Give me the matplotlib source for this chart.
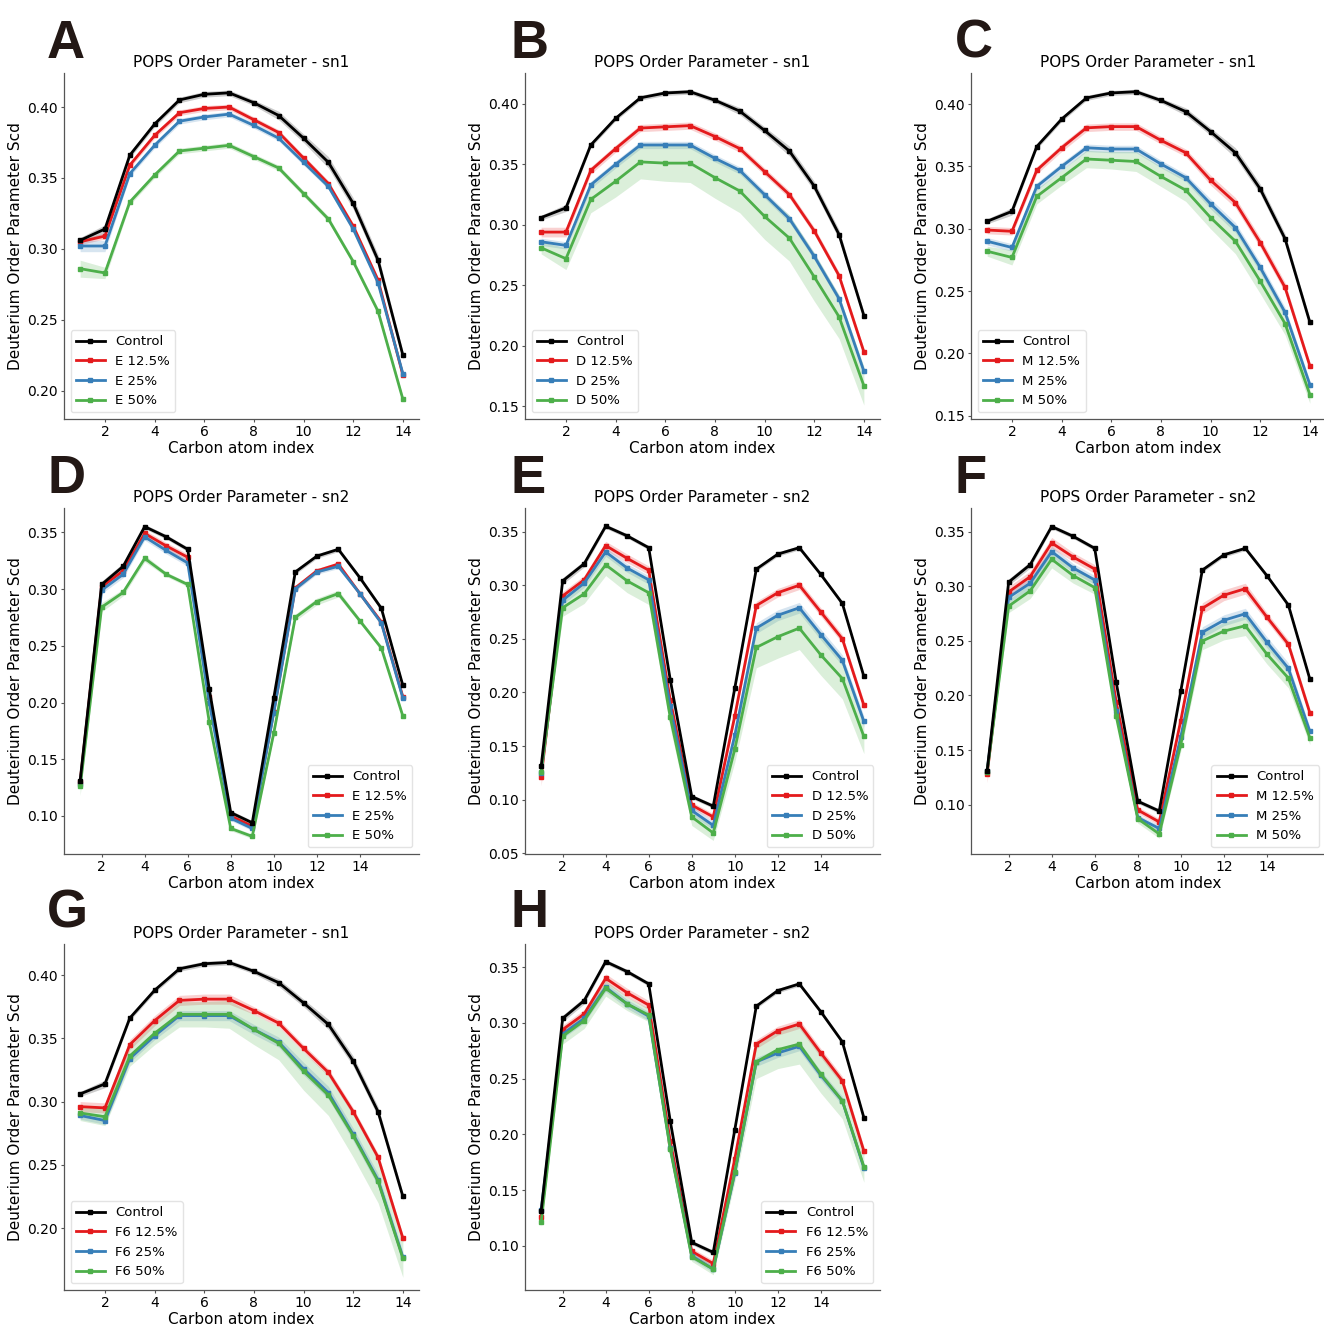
import matplotlib.pyplot as plt
import numpy as np

# carbon positions
carbon_sn1 = list(range(1, 15))
carbon_sn2 = list(range(1, 17))

# ---- sn1 chains (14 carbons) ----
ctrl_sn1 = [0.306, 0.314, 0.366, 0.388, 0.405, 0.409, 0.410, 0.403, 0.394, 0.378, 0.361, 0.332, 0.292, 0.225]
ctrl_sn1_err = [0.002, 0.003, 0.002, 0.002, 0.002, 0.002, 0.002, 0.002, 0.003, 0.003, 0.004, 0.004, 0.004, 0.003]

e12_sn1 = [0.305, 0.309, 0.359, 0.380, 0.396, 0.399, 0.400, 0.391, 0.382, 0.364, 0.346, 0.316, 0.278, 0.211]
e25_sn1 = [0.302, 0.302, 0.353, 0.373, 0.390, 0.393, 0.395, 0.387, 0.378, 0.361, 0.344, 0.314, 0.276, 0.212]
e50_sn1 = [0.286, 0.283, 0.333, 0.352, 0.369, 0.371, 0.373, 0.365, 0.357, 0.339, 0.321, 0.291, 0.256, 0.194]
e12_sn1_err = [0.002, 0.002, 0.002, 0.002, 0.002, 0.002, 0.002, 0.002, 0.002, 0.002, 0.002, 0.002, 0.002, 0.002]
e25_sn1_err = [0.004, 0.004, 0.002, 0.002, 0.002, 0.002, 0.002, 0.002, 0.002, 0.002, 0.002, 0.002, 0.002, 0.002]
e50_sn1_err = [0.006, 0.004, 0.002, 0.002, 0.002, 0.002, 0.002, 0.002, 0.002, 0.002, 0.002, 0.002, 0.002, 0.002]

d12_sn1 = [0.294, 0.294, 0.345, 0.363, 0.380, 0.381, 0.382, 0.373, 0.363, 0.344, 0.325, 0.295, 0.258, 0.195]
d25_sn1 = [0.286, 0.283, 0.333, 0.350, 0.366, 0.366, 0.366, 0.355, 0.345, 0.325, 0.305, 0.274, 0.239, 0.179]
d50_sn1 = [0.281, 0.272, 0.321, 0.336, 0.352, 0.351, 0.351, 0.339, 0.328, 0.307, 0.289, 0.257, 0.224, 0.167]
d12_sn1_err = [0.004, 0.004, 0.003, 0.003, 0.003, 0.003, 0.003, 0.003, 0.003, 0.003, 0.003, 0.003, 0.003, 0.003]
d25_sn1_err = [0.003, 0.003, 0.003, 0.003, 0.003, 0.003, 0.003, 0.003, 0.003, 0.003, 0.003, 0.003, 0.003, 0.003]
d50_sn1_err = [0.005, 0.009, 0.011, 0.013, 0.014, 0.015, 0.016, 0.017, 0.018, 0.019, 0.019, 0.020, 0.018, 0.016]

m12_sn1 = [0.299, 0.298, 0.347, 0.365, 0.381, 0.382, 0.382, 0.371, 0.361, 0.339, 0.321, 0.289, 0.253, 0.190]
m25_sn1 = [0.290, 0.285, 0.334, 0.350, 0.365, 0.364, 0.364, 0.352, 0.341, 0.320, 0.301, 0.269, 0.233, 0.175]
m50_sn1 = [0.282, 0.277, 0.326, 0.341, 0.356, 0.355, 0.354, 0.342, 0.331, 0.309, 0.290, 0.258, 0.224, 0.167]
m12_sn1_err = [0.003, 0.003, 0.003, 0.003, 0.003, 0.003, 0.003, 0.003, 0.003, 0.004, 0.004, 0.004, 0.004, 0.003]
m25_sn1_err = [0.003, 0.003, 0.003, 0.003, 0.003, 0.003, 0.003, 0.003, 0.003, 0.004, 0.004, 0.004, 0.004, 0.003]
m50_sn1_err = [0.004, 0.006, 0.006, 0.006, 0.007, 0.007, 0.008, 0.008, 0.009, 0.009, 0.010, 0.010, 0.009, 0.007]

f12_sn1 = [0.296, 0.295, 0.345, 0.364, 0.380, 0.381, 0.381, 0.372, 0.362, 0.342, 0.323, 0.292, 0.256, 0.192]
f25_sn1 = [0.289, 0.285, 0.334, 0.352, 0.368, 0.368, 0.368, 0.357, 0.347, 0.326, 0.307, 0.274, 0.238, 0.177]
f50_sn1 = [0.291, 0.288, 0.336, 0.354, 0.369, 0.369, 0.369, 0.357, 0.346, 0.324, 0.305, 0.273, 0.237, 0.176]
f12_sn1_err = [0.004, 0.004, 0.004, 0.004, 0.004, 0.004, 0.004, 0.003, 0.003, 0.003, 0.003, 0.003, 0.003, 0.003]
f25_sn1_err = [0.003, 0.003, 0.003, 0.003, 0.004, 0.004, 0.004, 0.004, 0.004, 0.005, 0.005, 0.005, 0.005, 0.004]
f50_sn1_err = [0.006, 0.007, 0.008, 0.009, 0.010, 0.010, 0.011, 0.012, 0.013, 0.015, 0.016, 0.017, 0.017, 0.015]

# ---- sn2 chains (16 carbons) ----
ctrl_sn2 = [0.131, 0.304, 0.320, 0.355, 0.346, 0.335, 0.212, 0.103, 0.094, 0.204, 0.315, 0.329, 0.335, 0.310, 0.283, 0.215]
ctrl_sn2_err = [0.003, 0.003, 0.003, 0.002, 0.002, 0.002, 0.002, 0.002, 0.002, 0.002, 0.002, 0.002, 0.002, 0.002, 0.002, 0.002]

e12_sn2 = [0.130, 0.302, 0.316, 0.349, 0.338, 0.328, 0.205, 0.100, 0.091, 0.192, 0.301, 0.316, 0.322, 0.296, 0.271, 0.205]
e25_sn2 = [0.128, 0.299, 0.313, 0.346, 0.334, 0.323, 0.200, 0.098, 0.089, 0.191, 0.300, 0.315, 0.320, 0.296, 0.270, 0.204]
e50_sn2 = [0.126, 0.284, 0.297, 0.327, 0.313, 0.304, 0.183, 0.089, 0.082, 0.173, 0.275, 0.289, 0.296, 0.272, 0.248, 0.188]
e12_sn2_err = [0.004, 0.003, 0.003, 0.003, 0.003, 0.003, 0.003, 0.002, 0.002, 0.002, 0.002, 0.002, 0.002, 0.002, 0.002, 0.002]
e25_sn2_err = [0.004, 0.003, 0.003, 0.003, 0.003, 0.003, 0.003, 0.002, 0.002, 0.002, 0.002, 0.002, 0.002, 0.002, 0.002, 0.002]
e50_sn2_err = [0.008, 0.004, 0.003, 0.003, 0.002, 0.002, 0.002, 0.002, 0.002, 0.002, 0.003, 0.003, 0.003, 0.002, 0.002, 0.002]

d12_sn2 = [0.121, 0.290, 0.305, 0.337, 0.325, 0.314, 0.193, 0.095, 0.084, 0.178, 0.281, 0.293, 0.300, 0.275, 0.250, 0.188]
d25_sn2 = [0.125, 0.286, 0.302, 0.331, 0.316, 0.305, 0.187, 0.090, 0.076, 0.160, 0.260, 0.272, 0.279, 0.254, 0.230, 0.173]
d50_sn2 = [0.126, 0.279, 0.292, 0.319, 0.304, 0.293, 0.177, 0.084, 0.069, 0.147, 0.242, 0.252, 0.260, 0.235, 0.213, 0.159]
d12_sn2_err = [0.008, 0.004, 0.004, 0.004, 0.004, 0.004, 0.004, 0.003, 0.003, 0.004, 0.004, 0.004, 0.004, 0.004, 0.004, 0.004]
d25_sn2_err = [0.004, 0.004, 0.004, 0.004, 0.004, 0.004, 0.004, 0.004, 0.004, 0.005, 0.005, 0.005, 0.005, 0.005, 0.005, 0.005]
d50_sn2_err = [0.004, 0.008, 0.009, 0.010, 0.011, 0.011, 0.010, 0.008, 0.007, 0.012, 0.019, 0.020, 0.020, 0.019, 0.019, 0.016]

m12_sn2 = [0.128, 0.295, 0.309, 0.340, 0.327, 0.316, 0.194, 0.095, 0.084, 0.177, 0.280, 0.292, 0.298, 0.272, 0.247, 0.184]
m25_sn2 = [0.131, 0.290, 0.303, 0.332, 0.317, 0.306, 0.186, 0.088, 0.078, 0.162, 0.258, 0.269, 0.275, 0.249, 0.225, 0.167]
m50_sn2 = [0.130, 0.282, 0.296, 0.325, 0.310, 0.299, 0.181, 0.087, 0.073, 0.155, 0.250, 0.259, 0.264, 0.238, 0.216, 0.161]
m12_sn2_err = [0.008, 0.005, 0.005, 0.005, 0.004, 0.004, 0.004, 0.003, 0.003, 0.004, 0.005, 0.005, 0.005, 0.004, 0.004, 0.004]
m25_sn2_err = [0.004, 0.005, 0.005, 0.005, 0.004, 0.004, 0.004, 0.003, 0.003, 0.004, 0.005, 0.005, 0.005, 0.005, 0.005, 0.004]
m50_sn2_err = [0.004, 0.006, 0.007, 0.008, 0.007, 0.006, 0.005, 0.004, 0.004, 0.006, 0.008, 0.008, 0.009, 0.009, 0.009, 0.006]

f12_sn2 = [0.126, 0.294, 0.308, 0.340, 0.327, 0.316, 0.194, 0.095, 0.084, 0.178, 0.281, 0.293, 0.299, 0.273, 0.248, 0.185]
f25_sn2 = [0.132, 0.290, 0.304, 0.332, 0.317, 0.306, 0.188, 0.091, 0.079, 0.165, 0.265, 0.273, 0.279, 0.253, 0.230, 0.170]
f50_sn2 = [0.121, 0.288, 0.302, 0.331, 0.317, 0.307, 0.187, 0.090, 0.079, 0.166, 0.265, 0.276, 0.281, 0.254, 0.230, 0.171]
f12_sn2_err = [0.004, 0.004, 0.004, 0.004, 0.004, 0.004, 0.004, 0.003, 0.003, 0.004, 0.004, 0.004, 0.004, 0.004, 0.004, 0.004]
f25_sn2_err = [0.003, 0.004, 0.004, 0.004, 0.004, 0.004, 0.004, 0.003, 0.003, 0.004, 0.004, 0.004, 0.004, 0.004, 0.004, 0.004]
f50_sn2_err = [0.004, 0.007, 0.007, 0.007, 0.006, 0.006, 0.005, 0.004, 0.005, 0.009, 0.015, 0.017, 0.018, 0.017, 0.016, 0.014]

colors = ["black", "#e41a1c", "#377eb8", "#4daf4a"]
conc = ["12.5%", "25%", "50%"]

# y ranges
ylims = {
    "A": (0.180, 0.424), "B": (0.1395, 0.4255), "C": (0.1474, 0.425),
    "D": (0.0665, 0.3714), "E": (0.0494, 0.372), "F": (0.0546, 0.372),
    "G": (0.151, 0.4246), "H": (0.0603, 0.3708),
}

# (letter, chain, prefix, series, errors, legend loc, col, row)
panels = [
    ("A", "sn1", "E", [e12_sn1, e25_sn1, e50_sn1], [e12_sn1_err, e25_sn1_err, e50_sn1_err], "lower left", 0, 0),
    ("B", "sn1", "D", [d12_sn1, d25_sn1, d50_sn1], [d12_sn1_err, d25_sn1_err, d50_sn1_err], "lower left", 1, 0),
    ("C", "sn1", "M", [m12_sn1, m25_sn1, m50_sn1], [m12_sn1_err, m25_sn1_err, m50_sn1_err], "lower left", 2, 0),
    ("D", "sn2", "E", [e12_sn2, e25_sn2, e50_sn2], [e12_sn2_err, e25_sn2_err, e50_sn2_err], "lower right", 0, 1),
    ("E", "sn2", "D", [d12_sn2, d25_sn2, d50_sn2], [d12_sn2_err, d25_sn2_err, d50_sn2_err], "lower right", 1, 1),
    ("F", "sn2", "M", [m12_sn2, m25_sn2, m50_sn2], [m12_sn2_err, m25_sn2_err, m50_sn2_err], "lower right", 2, 1),
    ("G", "sn1", "F6", [f12_sn1, f25_sn1, f50_sn1], [f12_sn1_err, f25_sn1_err, f50_sn1_err], "lower left", 0, 2),
    ("H", "sn2", "F6", [f12_sn2, f25_sn2, f50_sn2], [f12_sn2_err, f25_sn2_err, f50_sn2_err], "lower right", 1, 2),
]

W, H = 1324, 1327
col_left = [64, 525, 971]
row_top = [73, 508, 944]
ax_w, ax_h = 355, 346
letter_x = [47, 511, 955]
letter_base = [58, 493, 927]

fig = plt.figure(figsize=(W / 100, H / 100), dpi=100)

for letter, chain, prefix, series, errs, loc, c, r in panels:
    ax = fig.add_axes([col_left[c] / W, 1 - (row_top[r] + ax_h) / H, ax_w / W, ax_h / H])
    if chain == "sn1":
        x = np.array(carbon_sn1)
        ctrl, ctrl_err = ctrl_sn1, ctrl_sn1_err
    else:
        x = np.array(carbon_sn2)
        ctrl, ctrl_err = ctrl_sn2, ctrl_sn2_err

    ys = [ctrl] + series
    es = [ctrl_err] + errs
    labels = ["Control"] + [f"{prefix} {p}" for p in conc]
    # treatments in order, control drawn on top
    for y, e, col, lab, z in zip(ys, es, colors, labels, [5, 2, 3, 4]):
        y = np.array(y)
        e = np.array(e)
        ax.fill_between(x, y - e, y + e, color=col, alpha=0.2, lw=0, zorder=1)
        ax.plot(x, y, color=col, lw=2, marker="s", ms=3.2, label=lab, zorder=z)

    ax.legend(loc=loc, fontsize=9.5, frameon=True, edgecolor="#dddddd", handlelength=2.2)

    ax.set_ylim(*ylims[letter])
    ax.set_title(f"POPS Order Parameter - {chain}", fontsize=11, pad=4)
    ax.set_xlabel("Carbon atom index", fontsize=11, labelpad=1)
    ax.set_ylabel("Deuterium Order Parameter Scd", fontsize=11, labelpad=3)
    ax.set_xticks([2, 4, 6, 8, 10, 12, 14])
    ax.tick_params(labelsize=10, length=2.5, pad=2, color="#555555")
    ax.yaxis.set_major_formatter(plt.FormatStrFormatter("%.2f"))
    for s in ["top", "right"]:
        ax.spines[s].set_visible(False)
    for s in ["left", "bottom"]:
        ax.spines[s].set_color("#555555")
        ax.spines[s].set_linewidth(0.9)

    fig.text(letter_x[c] / W, 1 - letter_base[r] / H, letter, fontsize=38,
             fontweight="bold", family="Liberation Sans", color="#231815",
             ha="left", va="baseline")

plt.savefig("out.png", dpi=100)
